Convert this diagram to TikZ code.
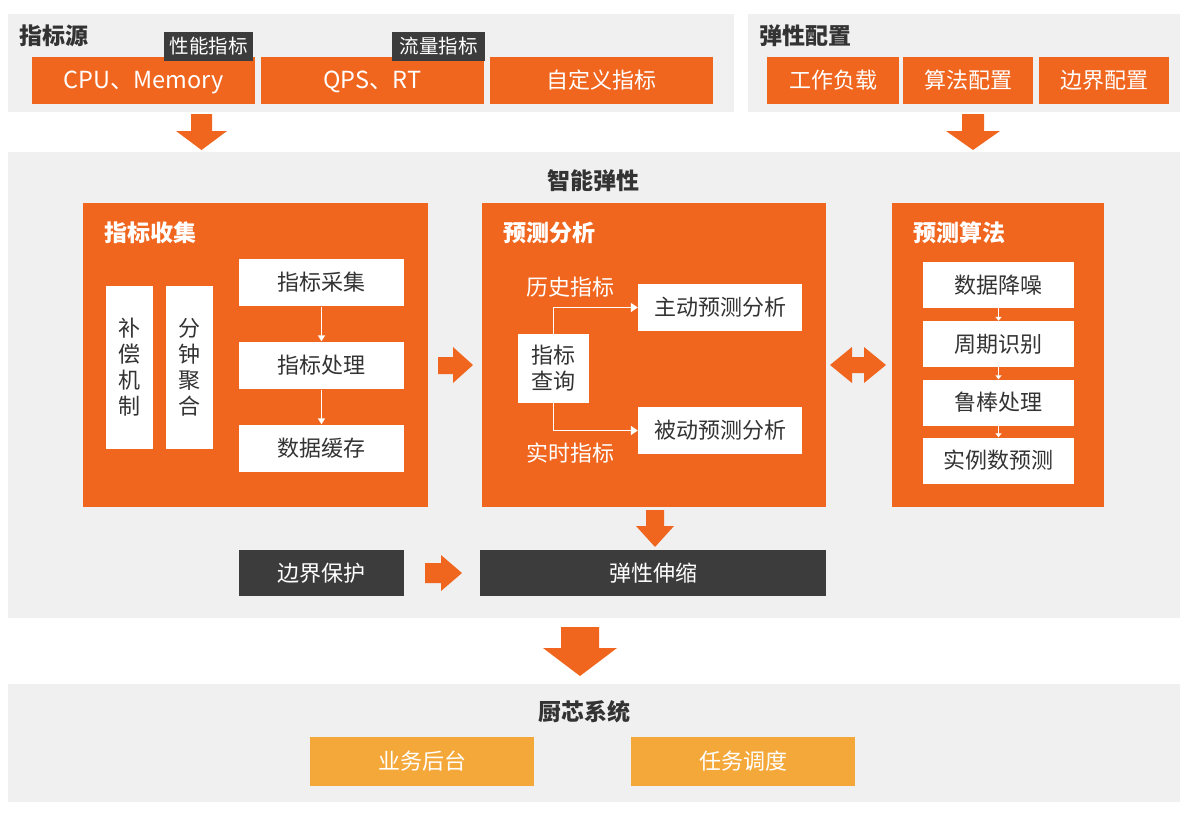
\documentclass[tikz,border=0pt]{standalone}
\usepackage{fontspec}
\setmainfont{Noto Sans CJK SC}
\usepackage{tikz}
\usetikzlibrary{arrows.meta}
\definecolor{BrandOrange}{HTML}{F0661F}
\definecolor{SoftOrange}{HTML}{F5A83A}
\definecolor{PanelGray}{HTML}{F0F0F1}
\definecolor{DarkGray}{HTML}{3C3C3C}
\definecolor{TextDark}{HTML}{333333}

\tikzset{
  boxtext/.style={font=\fontsize{22}{26}\selectfont},
  oneline/.style={text height=19pt,text depth=3pt},
  obox/.style={boxtext,oneline,fill=BrandOrange,text=white,inner sep=0pt,minimum height=47},
  wbox/.style={boxtext,oneline,fill=white,text=TextDark,inner sep=0pt,minimum height=47},
  dbox/.style={boxtext,oneline,fill=DarkGray,text=white,inner sep=0pt,minimum height=46},
  sbox/.style={boxtext,oneline,fill=SoftOrange,text=white,inner sep=0pt,minimum height=49},
  tallbox/.style={boxtext,fill=white,text=TextDark,inner sep=0pt,align=center},
  tagbox/.style={font=\fontsize{19.5}{22}\selectfont,text height=16.8pt,text depth=2.6pt,
    fill=DarkGray,text=white,inner sep=0pt,minimum height=29},
  paneltitle/.style={font=\fontsize{23}{26}\selectfont\bfseries,text=TextDark,inner sep=0pt},
  blocktitle/.style={font=\fontsize{23}{26}\selectfont\bfseries,text=white,inner sep=0pt,anchor=west},
  flowarrow/.style={white,line width=1.6pt,-{Triangle[length=7pt,width=9pt]}},
  stepflow/.style={white,line width=1.4pt,-{Triangle[length=6pt,width=7pt]},shorten <=1pt},
}

\begin{document}
\begin{tikzpicture}[x=1pt,y=-1pt,>=Latex]
  \useasboundingbox (0,0) rectangle (1188,812);
  % panels
  \fill[PanelGray] (8,14) rectangle (734,112);
  \fill[PanelGray] (748,14) rectangle (1180,112);
  \fill[PanelGray] (8,152) rectangle (1180,618);
  \fill[PanelGray] (8,684) rectangle (1180,802);

  % metric sources
  \node[paneltitle,anchor=west] (srctitle) at (19,36) {指标源};
  \node[obox,minimum width=223,font=\fontsize{23.5}{26}\selectfont] (cpu) at (143.5,80.5) {CPU、Memory};
  \node[obox,minimum width=223,font=\fontsize{23.5}{26}\selectfont] (qps) at (372.5,80.5) {QPS、RT};
  \node[obox,minimum width=223] (custom) at (601.5,80.5) {自定义指标};
  \node[tagbox,minimum width=89] (perftag) at (208.5,46.5) {性能指标};
  \node[tagbox,minimum width=93] (flowtag) at (438.5,46.5) {流量指标};

  % elastic config
  \node[paneltitle,anchor=west] (cfgtitle) at (759,36) {弹性配置};
  \node[obox,minimum width=132] (workload) at (833,80.5) {工作负载};
  \node[obox,minimum width=130] (algcfg) at (968,80.5) {算法配置};
  \node[obox,minimum width=130] (boundcfg) at (1104,80.5) {边界配置};

  % arrows into the smart elastic panel
  \fill[BrandOrange] (191,114) -- (212,114) -- (212,131) -- (227,131) -- (201.5,150)
    -- (176,131) -- (191,131) -- cycle;
  \fill[BrandOrange] (962,114) -- (984,114) -- (984,131) -- (1000,131) -- (973,150)
    -- (946,131) -- (962,131) -- cycle;

  % smart elastic
  \node[paneltitle] (smarttitle) at (593,181) {智能弹性};

  % metric collection
  \node[fill=BrandOrange,minimum width=345,minimum height=304,inner sep=0pt] (collect) at (255.5,355) {};
  \node[blocktitle] (collecttitle) at (104,233) {指标收集};
  \node[tallbox,minimum width=47,minimum height=163] (compens) at (129.5,367) {补\\偿\\机\\制};
  \node[tallbox,minimum width=47,minimum height=163] (minagg) at (189.5,367) {分\\钟\\聚\\合};
  \node[wbox,minimum width=165] (gather) at (321.5,282.5) {指标采集};
  \node[wbox,minimum width=165] (process) at (321.5,365) {指标处理};
  \node[wbox,minimum width=165] (cache) at (321.5,448) {数据缓存};
  \draw[stepflow] (gather) -- (process);
  \draw[stepflow] (process) -- (cache);

  \fill[BrandOrange] (438,357) -- (453,357) -- (453,347) -- (473,365) -- (453,383)
    -- (453,374) -- (438,374) -- cycle;

  % prediction analysis
  \node[fill=BrandOrange,minimum width=344,minimum height=304,inner sep=0pt] (predict) at (654,355) {};
  \node[blocktitle] (predicttitle) at (503,233) {预测分析};
  \node[tallbox,minimum width=71,minimum height=69] (query) at (553.5,368.5) {指标\\查询};
  \node[wbox,minimum width=164] (active) at (720,307.5) {主动预测分析};
  \node[wbox,minimum width=164] (passive) at (720,430.5) {被动预测分析};
  \draw[flowarrow] (query.north) |- (active.west);
  \draw[flowarrow] (query.south) |- (passive.west);
  \node[boxtext,text=white] (histlabel) at (570,287) {历史指标};
  \node[boxtext,text=white] (rtlabel) at (570,453) {实时指标};

  \fill[BrandOrange] (830,365) -- (852,347) -- (852,357) -- (864,357) -- (864,347)
    -- (886,365) -- (864,383) -- (864,373) -- (852,373) -- (852,383) -- cycle;

  % prediction algorithm
  \node[fill=BrandOrange,minimum width=212,minimum height=304,inner sep=0pt] (algo) at (998,355) {};
  \node[blocktitle] (algotitle) at (913,233) {预测算法};
  \node[wbox,minimum width=151,minimum height=46] (denoise) at (998.5,285) {数据降噪};
  \node[wbox,minimum width=151,minimum height=46] (period) at (998.5,344) {周期识别};
  \node[wbox,minimum width=151,minimum height=46] (robust) at (998.5,402.5) {鲁棒处理};
  \node[wbox,minimum width=151,minimum height=46] (instance) at (998.5,460.5) {实例数预测};
  \foreach \a/\b in {denoise/period,period/robust,robust/instance}
    \draw[white,line width=1.2pt,-{Triangle[length=4pt,width=6pt]}] (\a) -- (\b);

  % scaling
  \fill[BrandOrange] (646,510) -- (664,510) -- (664,526) -- (674,526) -- (655,547)
    -- (636,526) -- (646,526) -- cycle;
  \node[dbox,minimum width=165] (guard) at (321.5,573) {边界保护};
  \node[dbox,minimum width=346] (scale) at (653,573) {弹性伸缩};
  \fill[BrandOrange] (425,563) -- (441,563) -- (441,555) -- (462,573) -- (441,591)
    -- (441,583) -- (425,583) -- cycle;

  \fill[BrandOrange] (561,627) -- (599,627) -- (599,648) -- (617,648) -- (580,676)
    -- (543,648) -- (561,648) -- cycle;

  % kitchen system
  \node[paneltitle] (kitchentitle) at (584,712) {厨芯系统};
  \node[sbox,minimum width=224] (backend) at (422,761.5) {业务后台};
  \node[sbox,minimum width=224] (sched) at (743,761.5) {任务调度};
\end{tikzpicture}
\end{document}
